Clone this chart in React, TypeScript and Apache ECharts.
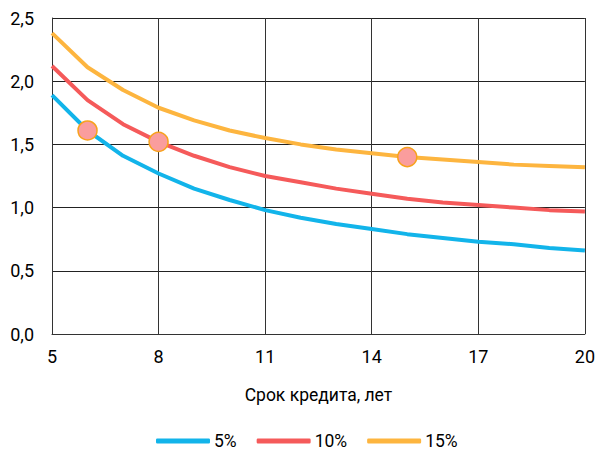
import React, { useEffect, useRef } from "react";
import * as echarts from "echarts";

const years = ["5", "6", "7", "8", "9", "10", "11", "12", "13", "14", "15", "16", "17", "18", "19", "20"];
const rate5 = [1.89, 1.61, 1.41, 1.27, 1.15, 1.06, 0.98, 0.92, 0.87, 0.83, 0.79, 0.76, 0.73, 0.71, 0.68, 0.66];
const rate10 = [2.12, 1.85, 1.66, 1.52, 1.41, 1.32, 1.25, 1.2, 1.15, 1.11, 1.07, 1.04, 1.02, 1.0, 0.98, 0.97];
const rate15 = [2.38, 2.11, 1.93, 1.79, 1.69, 1.61, 1.55, 1.5, 1.46, 1.43, 1.4, 1.38, 1.36, 1.34, 1.33, 1.32];
const highlightX = ["6", "8", "15"];
const highlightY = [1.61, 1.52, 1.4];
const seriesNames = ["5%", "10%", "15%"];
const xAxisTitle = "Срок кредита, лет";

const FONT = "Roboto, 'Noto Sans', sans-serif";

export default function App() {
  const ref = useRef<HTMLDivElement>(null);
  useEffect(() => {
    if (!ref.current) return;
    const chart = echarts.init(ref.current, null, { renderer: "svg" });
    const colors = ["#12b4ea", "#f55a5a", "#fdb53f"];
    const lineData = [rate5, rate10, rate15];
    chart.setOption({
      animation: false,
      textStyle: { fontFamily: FONT },
      grid: { left: 52, right: 11, top: 18, bottom: 118, containLabel: false },
      legend: {
        top: 432,
        left: 156,
        padding: 0,
        icon: "roundRect",
        itemWidth: 54,
        itemHeight: 5,
        itemGap: 20,
        data: seriesNames,
        textStyle: { fontSize: 17.5, lineHeight: 18, color: "#000", fontFamily: FONT, padding: [0, 0, 0, -1] },
      },
      xAxis: {
        type: "category",
        data: years,
        boundaryGap: false,
        name: xAxisTitle,
        nameLocation: "middle",
        nameGap: 52,
        nameTextStyle: { fontSize: 17.5, color: "#000", fontFamily: FONT },
        axisLine: { show: true, lineStyle: { color: "#333", width: 1 } },
        axisTick: { show: false },
        axisLabel: { interval: 2, fontSize: 18, color: "#000", margin: 13, fontFamily: FONT },
        splitLine: { show: true, interval: 2, lineStyle: { color: "#333", width: 1 } },
      },
      yAxis: {
        type: "value",
        min: 0,
        max: 2.5,
        interval: 0.5,
        axisLine: { show: true, lineStyle: { color: "#333", width: 1 } },
        axisTick: { show: false },
        axisLabel: {
          fontSize: 18,
          color: "#000",
          margin: 18,
          fontFamily: FONT,
          formatter: (v: number) => v.toFixed(1).replace(".", ","),
        },
        splitLine: { show: true, lineStyle: { color: "#222", width: 1 } },
      },
      series: [
        ...seriesNames.map((n, i) => ({
          name: n,
          type: "line",
          data: lineData[i],
          showSymbol: false,
          symbol: "none",
          smooth: false,
          itemStyle: { color: colors[i] },
          lineStyle: { color: colors[i], width: 4 },
          z: 2,
        })),
        {
          name: "points",
          type: "scatter",
          data: highlightX.map((x, i) => [x, highlightY[i]]),
          symbolSize: 19,
          itemStyle: { color: "#fa9d9d", opacity: 1, borderColor: "#f7a21c", borderWidth: 1.5 },
          z: 5,
        },
      ],
    });
    return () => chart.dispose();
  }, []);
  return <div ref={ref} style={{ width: 598, height: 452, position: "absolute", left: 0, top: 0 }} />;
}
